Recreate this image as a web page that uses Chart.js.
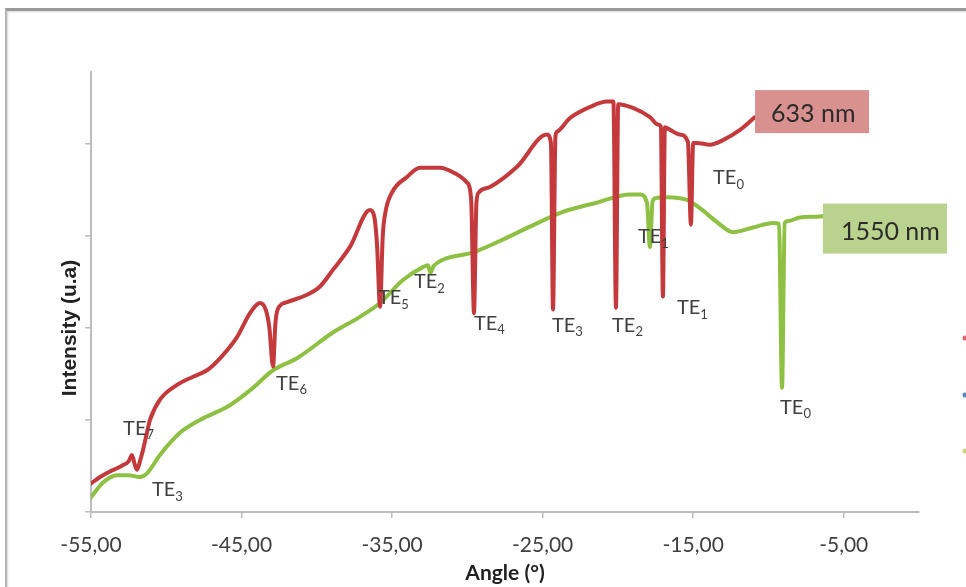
<!DOCTYPE html>
<html>
<head>
<meta charset="utf-8">
<script src="https://cdn.jsdelivr.net/npm/chart.js@4/dist/chart.umd.min.js"></script>
<style>
  html, body { margin: 0; padding: 0; background: #fff; overflow: hidden; }
  #wrap { position: relative; width: 966px; height: 587px; }
  #frame {
    position: absolute; left: 5px; top: 8px; width: 980px; height: 600px;
    border-top: 3px solid #9a9a9a; border-left: 2px solid #b5b5b5;
    box-shadow: inset 1px 1px 2px rgba(0,0,0,0.15);
  }
  #chart { position: absolute; left: 0; top: 0; }
</style>
</head>
<body>
<div id="wrap">
  <div id="frame"></div>
  <canvas id="chart" width="966" height="587"></canvas>
</div>
<script>
// Angular scan of the guided-mode dips, two wavelengths
const redAngle = [
  -55.00, -54.40, -53.74, -53.20, -52.87, -52.50, -52.28, -52.10, -51.94, -51.75,
  -51.55, -51.30, -51.08, -50.42, -49.29, -48.22, -47.30, -46.43, -45.30, -44.44,
  -43.78, -43.40, -43.15, -42.91, -42.75, -42.60, -41.98, -40.65, -39.79, -38.93,
  -37.80, -36.47, -36.20, -36.00, -35.80, -35.62, -35.45, -35.01, -34.01, -33.15,
  -31.82, -30.82, -30.03, -29.75, -29.56, -29.40, -29.25, -28.50, -26.70, -24.71,
  -24.45, -24.31, -24.15, -24.05, -23.18, -21.86, -20.73, -20.30, -20.13, -19.98,
  -19.00, -17.87, -17.34, -17.15, -17.01, -16.88, -16.74, -15.88, -15.35, -15.15,
  -15.00, -14.75, -13.89, -13.02, -11.89, -10.89
];
const redIntensity = [
  0.31, 0.38, 0.44, 0.48, 0.51, 0.55, 0.62, 0.52, 0.46, 0.55,
  0.67, 0.85, 1.00, 1.22, 1.38, 1.47, 1.54, 1.67, 1.90, 2.16,
  2.27, 2.20, 2.00, 1.58, 2.05, 2.20, 2.28, 2.36, 2.45, 2.63,
  2.88, 3.28, 3.22, 2.90, 2.23, 3.00, 3.25, 3.47, 3.64, 3.74,
  3.74, 3.68, 3.58, 3.40, 2.16, 3.35, 3.47, 3.53, 3.75, 4.10,
  4.01, 2.20, 4.08, 4.13, 4.28, 4.40, 4.46, 4.46, 2.22, 4.43,
  4.39, 4.29, 4.21, 4.19, 2.34, 4.18, 4.17, 4.10, 4.02, 3.12,
  4.01, 4.01, 3.99, 4.04, 4.15, 4.29
];
const greenAngle = [
  -55.00, -54.20, -53.27, -52.50, -51.75, -51.28, -50.42, -49.09, -47.76, -45.77,
  -44.30, -42.91, -41.32, -38.93, -37.14, -35.80, -34.28, -32.95, -32.62, -32.45,
  -32.25, -31.62, -29.62, -27.63, -25.84, -23.65, -21.41, -19.20, -18.53, -18.07,
  -17.87, -17.70, -17.50, -16.74, -15.41, -14.55, -13.42, -12.36, -11.03, -9.70,
  -9.30, -9.10, -8.92, -8.70, -7.90, -6.58, -6.25
];
const greenIntensity = [
  0.16, 0.32, 0.40, 0.40, 0.38, 0.42, 0.62, 0.86, 1.00, 1.16,
  1.34, 1.54, 1.67, 1.95, 2.12, 2.27, 2.52, 2.66, 2.68, 2.60,
  2.67, 2.74, 2.82, 2.96, 3.10, 3.26, 3.36, 3.45, 3.45, 3.36,
  2.88, 3.37, 3.41, 3.42, 3.39, 3.30, 3.15, 3.04, 3.09, 3.14,
  3.13, 1.35, 3.14, 3.16, 3.20, 3.21, 3.22
];
const seriesNames = ['633 nm', '1550 nm'];
const xTicks = [-55, -45, -35, -25, -15, -5];
const yTicks = [0, 1, 2, 3, 4];

// mode labels: [subscript, angle, intensity]
const modeLabels = [
  ['7', -52.87, 0.91], ['3', -50.95, 0.24], ['6', -42.71, 1.40],
  ['5', -35.94, 2.33], ['2', -33.55, 2.50], ['4', -29.56, 2.05],
  ['3', -24.38, 2.03], ['2', -20.39, 2.03], ['1', -16.08, 2.22],
  ['0', -13.68, 3.63], ['1', -18.67, 2.99], ['0', -9.23, 1.14]
];

const toPoints = (xs, ys) => xs.map((x, i) => ({ x, y: ys[i] }));

const AXIS = '#bdbdbd';
const TEXT = '#404040';
const FONT = 'Lato, "Open Sans", sans-serif';

// Boxed series name placed at the end of each curve
const endLabelPlugin = {
  id: 'endLabels',
  afterDatasetsDraw(chart) {
    const c = chart.ctx;
    chart.data.datasets.forEach((ds, i) => {
      const pts = chart.getDatasetMeta(i).data;
      const last = pts[pts.length - 1];
      const b = ds.endBox;
      c.save();
      c.fillStyle = b.fill;
      c.fillRect(last.x + b.dx, last.y + b.dy, b.w, b.h);
      c.font = '25px ' + FONT;
      c.fillStyle = '#2b2b2b';
      c.textBaseline = 'middle';
      c.fillText(ds.label, last.x + b.dx + b.tx, last.y + b.dy + b.h / 2 + b.ty);
      c.restore();
    });
  }
};

// TE mode annotations, vertical axis title and the clipped legend markers
const modePlugin = {
  id: 'modeLabels',
  afterDraw(chart) {
    const c = chart.ctx;
    const xs = chart.scales.x, ys = chart.scales.y;
    c.save();
    c.fillStyle = TEXT;
    c.textBaseline = 'middle';
    modeLabels.forEach(([sub, ax, iy]) => {
      const px = xs.getPixelForValue(ax);
      const py = ys.getPixelForValue(iy);
      c.font = '20px ' + FONT;
      c.fillText('TE', px, py);
      const w = c.measureText('TE').width;
      c.font = '13px ' + FONT;
      c.fillText(sub, px + w, py + 7);
    });

    c.save();
    c.translate(70, 328);
    c.rotate(-Math.PI / 2);
    c.textAlign = 'center';
    c.fillStyle = '#222';
    c.font = 'bold 21px "Liberation Sans", Arial, sans-serif';
    c.fillText('Intensity (u.a)', 0, 0);
    c.restore();

    [['#e0606a', 338], ['#5a86c0', 395], ['#cdd27a', 451]].forEach(([col, y]) => {
      c.fillStyle = col;
      c.beginPath();
      c.arc(965, y, 2.5, 0, Math.PI * 2);
      c.fill();
    });
    c.restore();
  }
};

new Chart(document.getElementById('chart'), {
  type: 'line',
  data: {
    datasets: [
      {
        label: seriesNames[0],
        data: toPoints(redAngle, redIntensity),
        borderColor: '#c43a3c',
        borderWidth: 4,
        endBox: { fill: '#d8918f', dx: 0, dy: -27, w: 114, h: 43, tx: 16, ty: 2 },
      },
      {
        label: seriesNames[1],
        data: toPoints(greenAngle, greenIntensity),
        borderColor: '#8dc043',
        borderWidth: 4,
        endBox: { fill: '#b9d38f', dx: -2, dy: -12, w: 124, h: 50, tx: 18, ty: 3 },
      }
    ]
  },
  options: {
    responsive: false,
    animation: false,
    parsing: false,
    layout: { padding: { left: 0, top: 72, right: 47, bottom: 0 } },
    elements: {
      point: { radius: 0 },
      line: { cubicInterpolationMode: 'monotone', borderJoinStyle: 'round', borderCapStyle: 'round' }
    },
    plugins: { legend: { display: false }, tooltip: { enabled: false } },
    scales: {
      x: {
        type: 'linear',
        min: -55,
        max: 0,
        afterBuildTicks: s => { s.ticks = xTicks.map(v => ({ value: v })); },
        afterFit: s => { s.height = 75; },
        border: { color: AXIS, width: 2 },
        grid: { drawOnChartArea: false, color: AXIS, tickLength: 6, lineWidth: 1.5 },
        ticks: {
          padding: 15,
          color: TEXT,
          font: { family: FONT, size: 21 },
          callback: v => v.toFixed(2).replace('.', ',')
        },
        title: {
          display: true,
          text: 'Angle (°)',
          color: '#222',
          font: { family: FONT, size: 21, weight: 'bold' },
          padding: { top: 0, bottom: 1 }
        }
      },
      y: {
        type: 'linear',
        min: 0,
        max: 4.78,
        afterBuildTicks: s => { s.ticks = yTicks.map(v => ({ value: v })); },
        afterFit: s => { s.width = 91; },
        border: { color: AXIS, width: 2 },
        grid: { drawOnChartArea: false, color: AXIS, tickLength: 6, lineWidth: 1.5 },
        ticks: { display: false }
      }
    }
  },
  plugins: [endLabelPlugin, modePlugin]
});
</script>
</body>
</html>
